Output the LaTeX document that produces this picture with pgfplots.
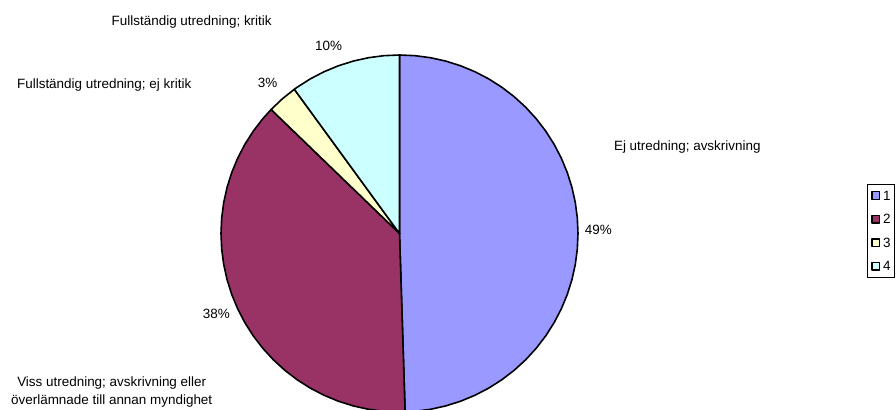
\documentclass[border=0pt]{standalone}
\usepackage{pgfplots}
\pgfplotsset{compat=1.18}
\usepackage{fontspec}
\setmainfont{Liberation Sans}
\definecolor{cA}{HTML}{9999FF}
\definecolor{cB}{HTML}{993366}
\definecolor{cC}{HTML}{FFFFCC}
\definecolor{cD}{HTML}{CCFFFF}
\newcommand{\lbl}{\fontsize{13.5}{16}\selectfont}
\begin{document}
\begin{tikzpicture}
\begin{axis}[
  x=1bp, y=1bp,
  xmin=-399.5, xmax=496.5, ymin=-175.5, ymax=233.5,
  hide axis,
  data cs=polar,
  legend cell align=left,
  legend image code/.code={\draw[#1, line width=1.4bp] (0bp,-3.75bp) rectangle (7.5bp,3.75bp);},
  legend style={at={(0.9673,0.5501)}, anchor=north west, draw=black, line width=0.8bp,
    font=\lbl, inner xsep=4bp, inner ysep=6.5bp, row sep=14.2bp, column sep=3bp,
    nodes={inner sep=0pt, text depth=0pt}},
  every axis plot/.append style={draw=black, line width=1.6bp, line join=round},
]
% slice 1: 49% (angles 90 -> -88.2)
\addplot[fill=cA] coordinates {(0,0) (90,178.5) (85,178.5) (80,178.5) (75,178.5) (70,178.5) (65,178.5) (60,178.5) (55,178.5) (50,178.5) (45,178.5) (40,178.5) (35,178.5) (30,178.5) (25,178.5) (20,178.5) (15,178.5) (10,178.5) (5,178.5) (0,178.5) (-5,178.5) (-10,178.5) (-15,178.5) (-20,178.5) (-25,178.5) (-30,178.5) (-35,178.5) (-40,178.5) (-45,178.5) (-50,178.5) (-55,178.5) (-60,178.5) (-65,178.5) (-70,178.5) (-75,178.5) (-80,178.5) (-85,178.5) (-88.2,178.5)} -- cycle;
\addlegendentry{1}
% slice 2: 38% (angles -88.2 -> -224)
\addplot[fill=cB] coordinates {(0,0) (-88.2,178.5) (-90,178.5) (-95,178.5) (-100,178.5) (-105,178.5) (-110,178.5) (-115,178.5) (-120,178.5) (-125,178.5) (-130,178.5) (-135,178.5) (-140,178.5) (-145,178.5) (-150,178.5) (-155,178.5) (-160,178.5) (-165,178.5) (-170,178.5) (-175,178.5) (-180,178.5) (-185,178.5) (-190,178.5) (-195,178.5) (-200,178.5) (-205,178.5) (-210,178.5) (-215,178.5) (-220,178.5) (-224,178.5)} -- cycle;
\addlegendentry{2}
% slice 3: 3% (angles 136 -> 126.1)
\addplot[fill=cC] coordinates {(0,0) (136,178.5) (131,178.5) (126.1,178.5)} -- cycle;
\addlegendentry{3}
% slice 4: 10% (angles 126.1 -> 90)
\addplot[fill=cD] coordinates {(0,0) (126.1,178.5) (125,178.5) (120,178.5) (115,178.5) (110,178.5) (105,178.5) (100,178.5) (95,178.5) (90,178.5)} -- cycle;
\addlegendentry{4}

\node[font=\lbl, anchor=base] at (axis cs:-207.8,208) {Fullständig utredning; kritik};
\node[font=\lbl, anchor=base] at (axis cs:-70.8,182.8) {10\%};
\node[font=\lbl, anchor=base] at (axis cs:-295.3,145.2) {Fullständig utredning; ej kritik};
\node[font=\lbl, anchor=base] at (axis cs:-132,146.5) {3\%};
\node[font=\lbl, anchor=base] at (axis cs:287.8,82.8) {Ej utredning; avskrivning};
\node[font=\lbl, anchor=base] at (axis cs:198.8,-0.5) {49\%};
\node[font=\lbl, anchor=base] at (axis cs:-183.2,-84.8) {38\%};
\node[font=\lbl, anchor=base] at (axis cs:-287.8,-152.5) {Viss utredning; avskrivning eller};
\node[font=\lbl, anchor=base] at (axis cs:-287.8,-170.5) {överlämnade till annan myndighet};
\coordinate (SW) at (rel axis cs:0,0);
\coordinate (NE) at (rel axis cs:1,1);
\end{axis}
\pgfresetboundingbox
\path[use as bounding box] (SW) rectangle (NE);
\end{tikzpicture}
\end{document}
